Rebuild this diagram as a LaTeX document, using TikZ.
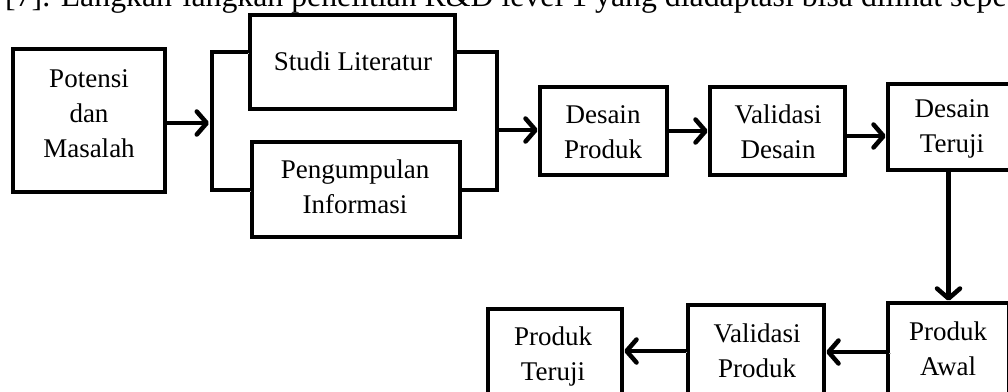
\documentclass[tikz,border=0pt]{standalone}
\usepackage{fontspec}
\setmainfont{Liberation Serif}
\usetikzlibrary{arrows.meta,calc}
\begin{document}
\begin{tikzpicture}[x=1pt,y=-1pt,
  box/.style={draw=black, line width=4.5pt, inner sep=0pt, fill=white},
  txt/.style={font=\fontsize{27}{35}\selectfont, align=center, anchor=base, inner sep=0pt},
  headtxt/.style={font=\fontsize{31.8}{36}\selectfont, anchor=base west, inner sep=0pt},
  shad/.style={preaction={draw=black!30, transform canvas={shift={(1.5pt,-1.5pt)}}}},
  arr/.style={line width=4.5pt, shad,
    -{Straight Barb[length=10pt,width=23pt,line width=4.5pt 0,round]}},
  brk/.style={line width=4.8pt, shad, line join=miter}]
\useasboundingbox (0,0) rectangle (1008,391);
\clip (0,0) rectangle (1008,391);
\fill[white] (0,0) rectangle (1008,391);

% heading line (cropped)
\node[headtxt] (head) at (5,6) {[7]. Langkah-langkah penelitian R\&D level 1 yang diadaptasi bisa dilihat sepe};

% boxes
\node[box, minimum width=152pt, minimum height=143pt] (pm) at (89,120.5) {};
\node[box, minimum width=205pt, minimum height=94pt] (sl) at (352.5,62) {};
\node[box, minimum width=208pt, minimum height=95pt] (pi) at (356,189.5) {};
\node[box, minimum width=127pt, minimum height=88pt] (dp) at (603.5,131) {};
\node[box, minimum width=135pt, minimum height=88pt] (vd) at (777.5,131) {};
\node[box, minimum width=128pt, minimum height=86pt] (dt) at (952,127) {};
\node[box, minimum width=121pt, minimum height=92pt] (pa) at (948.5,349) {};
\node[box, minimum width=136pt, minimum height=92pt] (vp) at (756,351) {};
\node[box, minimum width=134pt, minimum height=92pt] (ptj) at (555,355) {};

% texts (anchor = baseline of the last line)
\node[txt] (pmt) at (89,157) {Potensi\\dan\\Masalah};
\node[txt] (slt) at (353,70) {Studi Literatur};
\node[txt] (pit) at (355,213) {Pengumpulan\\Informasi};
\node[txt] (dpt) at (603,158) {Desain\\Produk};
\node[txt] (vdt) at (778,158) {Validasi\\Desain};
\node[txt] (dtt) at (952,152) {Desain\\Teruji};
\node[txt] (pat) at (948,375) {Produk\\Awal};
\node[txt] (vpt) at (757,377) {Validasi\\Produk};
\node[txt] (ptt) at (553,380) {Produk\\Teruji};

% bracket joining the two parallel steps
\coordinate (tl) at (212,52);
\coordinate (bl) at (212,190);
\coordinate (tr) at (497,52);
\coordinate (br) at (497,190);
\draw[brk] (sl.west |- tl) -- (tl) -- (bl) -- (pi.west |- bl);
\draw[brk] (sl.east |- tr) -- (tr) -- (br) -- (pi.east |- br);

% connectors
\coordinate (jin) at (209,123);
\coordinate (jout) at (497,130);
\coordinate (a3) at (845,136);
\coordinate (a5) at (889,352);
\draw[arr] (pm.east |- jin) -- (jin);
\draw[arr] (jout) -- (jout -| dp.west);
\draw[arr] (dp.east) -- (dp.east -| vd.west);
\draw[arr] (a3) -- (a3 -| dt.west);
\draw[arr] (pa.north |- dt.south) -- (pa.north);
\draw[arr] (a5) -- (a5 -| vp.east);
\draw[arr] (vp.west) -- (vp.west -| ptj.east);
\end{tikzpicture}
\end{document}
